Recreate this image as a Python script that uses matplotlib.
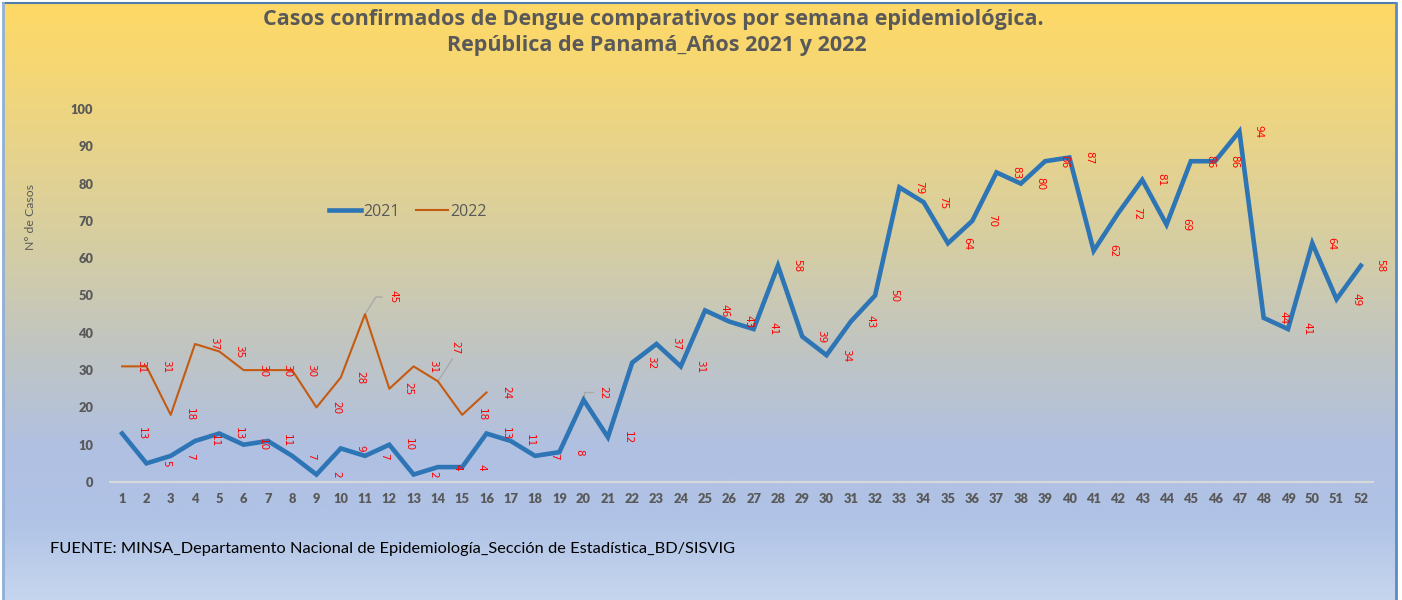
import numpy as np
import matplotlib
matplotlib.use("Agg")
import matplotlib.pyplot as plt
from matplotlib.colors import LinearSegmentedColormap
from matplotlib.patches import Rectangle

weeks = list(range(1, 53))
cases_2021 = [13, 5, 7, 11, 13, 10, 11, 7, 2, 9, 7, 10, 2, 4, 4, 13, 11, 7, 8, 22,
              12, 32, 37, 31, 46, 43, 41, 58, 39, 34, 43, 50, 79, 75, 64, 70, 83, 80, 86, 87,
              62, 72, 81, 69, 86, 86, 94, 44, 41, 64, 49, 58]
weeks_2022 = list(range(1, 17))
cases_2022 = [31, 31, 18, 37, 35, 30, 30, 30, 20, 28, 45, 25, 31, 27, 18, 24]
yticks = [0, 10, 20, 30, 40, 50, 60, 70, 80, 90, 100]

W, H = 1402, 600
fig = plt.figure(figsize=(W / 100, H / 100), dpi=100)

# background gradient
bg = fig.add_axes([0, 0, 1, 1], zorder=-10)
bg.set_xlim(0, W)
bg.set_ylim(H, 0)
bg.axis("off")
stops = [(0, (255, 217, 102)), (60, (246, 215, 115)), (150, (230, 211, 140)),
         (250, (212, 205, 165)), (350, (192, 197, 195)), (450, (176, 192, 226)),
         (520, (176, 195, 230)), (600, (198, 213, 238))]
cmap = LinearSegmentedColormap.from_list(
    "bg", [(p / 600, tuple(c / 255 for c in rgb)) for p, rgb in stops])
grad = np.linspace(0, 1, 600).reshape(-1, 1)
bg.add_patch(Rectangle((0, 0), W, H, color="white", zorder=0))
bg.imshow(grad, cmap=cmap, aspect="auto", extent=(3, 1396, 600, 3), zorder=1)
bg.plot([3, 1396], [3, 3], color="#4F7DB0", lw=1.5, zorder=2)
bg.plot([3, 3], [3, 600], color="#8FB0D8", lw=2, zorder=2)
bg.plot([1396, 1396], [3, 600], color="#5B8BC0", lw=2, zorder=2)

# main axes
left, right, top, bottom = 110, 1373, 109, 482
ax = fig.add_axes([left / W, 1 - bottom / H, (right - left) / W, (bottom - top) / H])
ax.set_facecolor("none")
ax.set_xlim(0.5, 52.5)
ax.set_ylim(0, 100)
for s in ["left", "right", "top"]:
    ax.spines[s].set_visible(False)
ax.spines["bottom"].set_color("#D9D9D9")
ax.spines["bottom"].set_linewidth(1.5)

blue = "#2E75B6"
orange = "#C55A11"
ax.plot(weeks, cases_2021, color=blue, lw=3.3, label="2021", clip_on=False,
        solid_joinstyle="miter", zorder=3)
ax.plot(weeks_2022, cases_2022, color=orange, lw=1.5, label="2022", clip_on=False, zorder=3)

tick_font = dict(family="Lato", fontweight="heavy", fontsize=9.3, color="#595959")
ax.set_yticks(yticks)
ax.set_yticklabels([str(t) for t in yticks], **tick_font)
ax.set_xticks(weeks)
ax.set_xticklabels([str(w) for w in weeks], **tick_font)
ax.tick_params(axis="both", length=0)
ax.tick_params(axis="y", pad=12)
ax.tick_params(axis="x", pad=8)

lab_font = dict(family=["Liberation Sans Narrow", "DejaVu Sans"], fontsize=7.5,
                color="#FF0000", rotation=270, ha="center", va="center", zorder=4)

special_2021 = {20: (20.8, 24.0)}
special_2022 = {11: (12.15, 49.6), 14: (14.7, 36.0)}
for w, v in zip(weeks, cases_2021):
    x, y = special_2021.get(w, (w + 0.8, v))
    ax.text(x, y, str(v), **lab_font)
for w, v in zip(weeks_2022, cases_2022):
    x, y = special_2022.get(w, (w + 0.8, v))
    ax.text(x, y, str(v), **lab_font)

# leader lines
lc = "#A6A6A6"
ax.plot([20, 20, 20.4], [22, 24, 24], color=lc, lw=0.9, zorder=2)
ax.plot([11, 11.45, 11.7], [45, 49.6, 49.6], color=lc, lw=0.9, zorder=2)
ax.plot([14, 14.6], [27, 33], color=lc, lw=0.9, zorder=2)

leg = ax.legend(loc="center", bbox_to_anchor=(408 / W, 1 - 212 / H),
                bbox_transform=fig.transFigure, ncol=2, frameon=False,
                handlelength=2.0, handletextpad=0.15, columnspacing=1.0,
                prop=dict(family="Open Sans", size=11.5))
for t in leg.get_texts():
    t.set_color("#595959")

fig.text(30 / W, 1 - 217 / H, "N° de Casos", rotation=90, ha="center", va="center",
         fontsize=8.8, color="#595959", family="Lato")

fig.text(653 / W, 1 - 20 / H, "Casos confirmados de Dengue comparativos por semana epidemiológica.",
         ha="center", va="center", fontsize=15.5, fontweight="bold", color="#595959", family="Open Sans")
fig.text(657 / W, 1 - 46 / H, "República de Panamá_Años 2021 y 2022",
         ha="center", va="center", fontsize=15.5, fontweight="bold", color="#595959", family="Open Sans")

fig.text(50 / W, 1 - 549 / H,
         "FUENTE: MINSA_Departamento Nacional de Epidemiología_Sección de Estadística_BD/SISVIG",
         ha="left", va="center", fontsize=11.8, color="black", family="Lato")

fig.savefig("out.png", dpi=100)
